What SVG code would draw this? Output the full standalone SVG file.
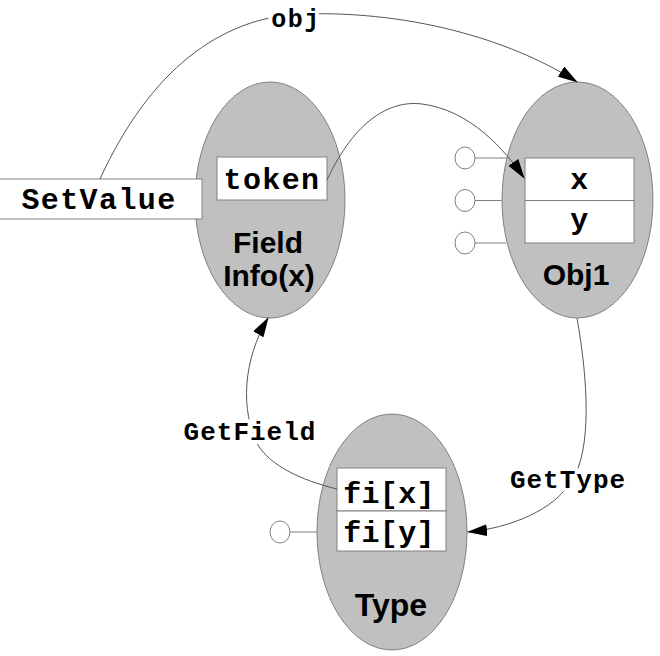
<svg xmlns="http://www.w3.org/2000/svg" width="660" height="656" viewBox="0 0 660 656">
<style>
.ell{fill:#c0c0c0;stroke:#808080;stroke-width:1}
.box{fill:#fff;stroke:#808080;stroke-width:1}
.port{fill:#fff;stroke:#808080;stroke-width:1}
.stub{stroke:#808080;stroke-width:1;fill:none}
.title{font-family:"Liberation Sans",Arial,sans-serif;font-weight:bold;font-size:30px;fill:#000;text-anchor:middle}
.mono{font-family:"Liberation Mono","Courier New",monospace;font-weight:bold;font-size:30px;fill:#000;text-anchor:middle;letter-spacing:1.4px}
.lbl{font-family:"Liberation Mono","Courier New",monospace;font-weight:bold;font-size:26px;fill:#000;text-anchor:middle;letter-spacing:1px;stroke:#fff;stroke-width:8px;paint-order:stroke;stroke-linejoin:round}
.conn{fill:none;stroke:#555;stroke-width:1;marker-end:url(#arr)}
</style>
<defs>
<marker id="arr" markerUnits="userSpaceOnUse" markerWidth="20" markerHeight="12" refX="19" refY="6" orient="auto">
<path d="M0,0 L20,6 L0,12 z" fill="#000"/>
</marker>
</defs>
<rect width="660" height="656" fill="#fff"/>

<g id="fieldinfo">
<ellipse class="ell" cx="270" cy="200" rx="75" ry="118"/>
<rect class="box" x="217" y="157" width="110" height="43"/>
<text class="mono" x="272" y="189">token</text>
<text class="title" x="268" y="253">Field</text>
<text class="title" x="269" y="286">Info(x)</text>
</g>

<g id="setvalue">
<rect class="box" x="-2" y="179" width="204" height="40"/>
<text class="mono" x="99" y="209">SetValue</text>
</g>

<g id="obj1">
<line class="stub" x1="475" y1="158" x2="525" y2="158"/>
<line class="stub" x1="475" y1="200.5" x2="501.5" y2="200.5"/>
<line class="stub" x1="475" y1="243" x2="506" y2="243"/>
<ellipse class="port" cx="465" cy="158" rx="10" ry="11"/>
<ellipse class="port" cx="465" cy="200.5" rx="10" ry="11"/>
<ellipse class="port" cx="465" cy="243" rx="10" ry="11"/>
<ellipse class="ell" cx="577.5" cy="200" rx="75.5" ry="118"/>
<rect class="box" x="525" y="158" width="109" height="42.5"/>
<rect class="box" x="525" y="200.5" width="109" height="42.5"/>
<text class="mono" x="580" y="189">x</text>
<text class="mono" x="580" y="229">y</text>
<text class="title" x="576" y="285">Obj1</text>
</g>

<g id="type">
<line class="stub" x1="290" y1="532" x2="317" y2="532"/>
<ellipse class="port" cx="280" cy="532" rx="10" ry="11"/>
<ellipse class="ell" cx="392" cy="532" rx="75" ry="118"/>
<rect class="box" x="337" y="468" width="109" height="43"/>
<rect class="box" x="337" y="511" width="109" height="40"/>
<text class="mono" x="389" y="503" style="letter-spacing:0.3px">fi[x]</text>
<text class="mono" x="389" y="542" style="letter-spacing:0.3px">fi[y]</text>
<text class="title" x="391" y="616" style="font-size:32px">Type</text>
</g>

<g id="connectors">
<path class="conn" d="M100,179 C150,70 220,18 300,14 C420,10 520,45 577,82"/>
<path class="conn" d="M327,180 C355,120 390,100 422,104 C470,110 505,150 524,178"/>
<path class="conn" d="M577,318 C588,380 592,450 572,480 C555,510 510,528 468,532"/>
<path class="conn" d="M337,489 C300,480 270,465 258,445 C240,410 243,360 268,318"/>
<text class="lbl" x="296" y="27" style="font-size:25px;letter-spacing:1.5px">obj</text>
<text class="lbl" x="250" y="440">GetField</text>
<text class="lbl" x="568" y="488">GetType</text>
</g>
</svg>
